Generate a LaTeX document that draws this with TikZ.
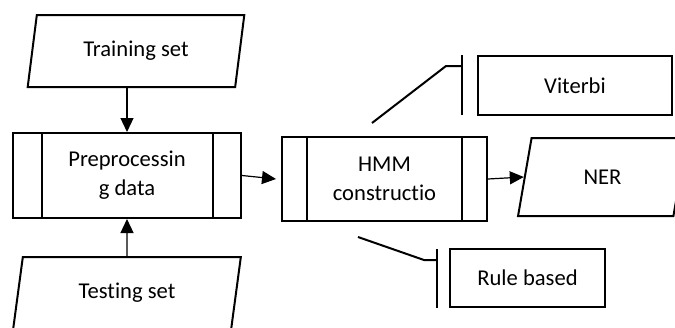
\documentclass[tikz,border=0pt]{standalone}
\usepackage{fontspec}
\setmainfont{Carlito}[Ligatures=NoCommon]
\usetikzlibrary{shapes.geometric,arrows.meta}
\begin{document}
\begin{tikzpicture}[
  x=0.5pt,y=-0.5pt,
  txt/.style={font=\fontsize{11.3}{14.5}\selectfont,align=center},
  io/.style={txt,draw,line width=1pt,trapezium,trapezium stretches=true,inner sep=0pt},
  sub/.style={txt,draw,line width=1pt,rectangle,inner sep=0pt},
  box/.style={txt,draw,line width=1pt,rectangle,inner sep=0pt},
  flow/.style={-{Triangle[length=7pt,width=6.5pt]},line width=0.6pt},
  note/.style={line width=1pt}
]
  \useasboundingbox (0,0) rectangle (675,327);
  \clip (0,0) rectangle (675,327);

  \node[io,trapezium left angle=76,trapezium right angle=104,minimum width=109pt,minimum height=36pt] (train) at (136,51) {Training set};
  \node[sub,minimum width=114pt,minimum height=42.5pt] (prep) at (127,175.5) {Preprocessin\\g data};
  \node[io,trapezium left angle=77,trapezium right angle=103,minimum width=114pt,minimum height=36pt] (test) at (127,293) {Testing set};

  \node[sub,minimum width=102.5pt,minimum height=42pt] (hmm) at (384.5,179) {HMM\\constructio};
  \node[io,trapezium left angle=76,trapezium right angle=104,minimum width=84.5pt,minimum height=39pt] (ner) at (602.5,177) {NER};

  \node[box,minimum width=97pt,minimum height=29.5pt] (viterbi) at (575,85.5) {Viterbi};
  \node[box,minimum width=77.5pt,minimum height=29pt] (rule) at (527.5,278) {Rule based};

  \draw[line width=1pt] ([xshift=15pt]prep.north west) -- ([xshift=15pt]prep.south west);
  \draw[line width=1pt] ([xshift=-14.5pt]prep.north east) -- ([xshift=-14.5pt]prep.south east);
  \draw[line width=1pt] ([xshift=13pt]hmm.north west) -- ([xshift=13pt]hmm.south west);
  \draw[line width=1pt] ([xshift=-13pt]hmm.north east) -- ([xshift=-13pt]hmm.south east);

  \draw[flow] (prep.north |- train.south) -- (prep.north);
  \draw[flow] (test.north) -- (prep.south);
  \draw[flow] (prep.east) -- ([xshift=-2.5pt]hmm.west);
  \draw[flow] (hmm.east) -- (ner.west);

  \coordinate (vitTip) at (372,123);
  \coordinate (ruleTip) at (358,237);
  \draw[note] ([xshift=-7.5pt]viterbi.north west) -- ([xshift=-7.5pt,yshift=0.5pt]viterbi.south west);
  \draw[note] (vitTip) -- ([xshift=-15.5pt,yshift=-5.5pt]viterbi.north west) -- ([xshift=-7.5pt,yshift=-5.5pt]viterbi.north west);
  \draw[note] ([xshift=-6pt,yshift=-0.5pt]rule.north west) -- ([xshift=-6pt]rule.south west);
  \draw[note] (ruleTip) -- ([xshift=-12.5pt,yshift=-6pt]rule.north west) -- ([xshift=-6pt,yshift=-6pt]rule.north west);
\end{tikzpicture}
\end{document}
